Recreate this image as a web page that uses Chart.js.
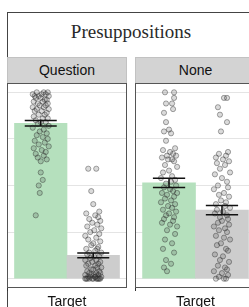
<!DOCTYPE html>
<html>
<head>
  <meta charset="utf-8" />
  <title>Presuppositions</title>
  <script src="https://cdn.jsdelivr.net/npm/chart.js@4.4.0/dist/chart.umd.min.js"></script>
  <style>
    body {
      margin: 0;
      width: 249px;
      height: 307px;
      overflow: hidden;
      background: #fff;
      position: relative;
      font-family: "Liberation Sans", Arial, sans-serif;
    }
    #frame {
      position: absolute; left: 7px; top: 12px;
      width: 270px; height: 330px;
      border: 1px solid #444; box-sizing: border-box;
    }
    #title {
      position: absolute; left: 7px; width: 248px; top: 21px;
      text-align: center; line-height: 22px;
      font-family: "Liberation Serif", serif; font-size: 19px; color: #2a2a2a;
    }
    .strip {
      position: absolute; top: 57px; height: 26px;
      background: #d3d3d3; border: 1px solid #c2c2c2; border-bottom: none;
      box-sizing: border-box; text-align: center;
      font-size: 14px; line-height: 25px; color: #111;
    }
    canvas { position: absolute; top: 83px; }
  </style>
</head>
<body>
  <div id="frame"></div>
  <div id="title">Presuppositions</div>
  <div class="strip" id="stripQ" style="left:7px; width:120px;"></div>
  <div class="strip" id="stripN" style="left:135px; width:121px;"></div>
  <canvas id="panelQ" width="120" height="224" style="left:7px"></canvas>
  <canvas id="panelN" width="121" height="224" style="left:135px"></canvas>

  <script>
    // 1) Values
    const panelNames = ['Question', 'None'];
    const xLabel = 'Target';
    const yGrid = [0, 0.25, 0.5, 0.75, 1];

    // bar means and standard errors: [target (green), control (grey)]
    const questionMeans = [0.834, 0.125];
    const questionSE = [0.015, 0.013];
    const noneMeans = [0.514, 0.368];
    const noneSE = [0.025, 0.025];

    // individual ratings (points) and their horizontal jitter
    const qTargetVals = [1.00,1.00,1.00,0.99,0.99,0.99,0.98,0.98,0.98,0.97,
      0.97,0.96,0.96,0.95,0.95,0.94,0.94,0.93,0.93,0.92,
      0.92,0.91,0.91,0.90,0.90,0.89,0.88,0.88,0.87,0.86,
      0.86,0.85,0.84,0.84,0.83,0.82,0.81,0.80,0.79,0.78,
      0.77,0.76,0.75,0.74,0.73,0.72,0.71,0.70,0.69,0.68,
      0.67,0.66,0.65,0.64,0.63,0.57,0.53,0.50,0.46,0.34];
    const qTargetJit = [-0.04,0.03,0.07,-0.08,0.01,0.05,-0.02,-0.06,0.08,0.00,
      -0.05,0.04,0.06,-0.07,0.02,-0.03,0.07,-0.01,0.05,-0.08,
      0.03,-0.04,0.08,0.01,-0.06,0.06,-0.02,0.04,-0.07,0.02,
      0.07,-0.05,0.00,0.05,-0.03,0.08,-0.08,0.03,-0.01,0.06,
      -0.04,0.02,0.07,-0.06,0.04,-0.02,0.08,-0.07,0.01,0.05,
      -0.05,0.03,-0.03,0.06,0.00,0.00,0.02,-0.02,-0.01,-0.05];

    const qControlVals = [0.59,0.59,0.47,0.40,0.36,0.35,0.34,0.33,0.32,0.31,
      0.30,0.29,0.28,0.27,0.26,0.25,0.24,0.23,0.22,0.21,
      0.20,0.19,0.18,0.17,0.16,0.16,0.15,0.14,0.14,0.13,
      0.12,0.12,0.11,0.10,0.10,0.09,0.09,0.08,0.08,0.07,
      0.07,0.06,0.06,0.05,0.05,0.04,0.04,0.03,0.03,0.03,
      0.02,0.02,0.02,0.01,0.01,0.01,0.01,0.00,0.00,0.00,
      0.00,0.00,0.00,0.00,0.00,0.00,0.00,0.00,0.01,0.02];
    const qControlJit = [-0.05,0.03,-0.02,0.00,0.06,-0.07,0.02,0.05,-0.04,0.07,
      -0.01,0.04,-0.06,0.08,0.01,-0.03,0.06,-0.08,0.03,-0.05,
      0.07,0.00,-0.02,0.05,-0.07,0.04,0.02,-0.04,0.08,-0.06,
      0.01,0.06,-0.03,-0.08,0.03,0.07,-0.01,0.05,-0.05,0.02,
      -0.07,0.08,0.04,-0.02,0.00,0.06,-0.06,0.03,-0.04,0.07,
      -0.08,0.01,0.05,-0.03,0.08,-0.05,0.02,-0.07,0.04,0.06,
      -0.01,-0.06,0.03,0.07,-0.04,0.00,0.05,-0.08,0.02,-0.02];

    const nTargetVals = [1.00,1.00,0.97,0.94,0.94,0.91,0.89,0.84,0.80,0.79,
      0.78,0.74,0.70,0.69,0.68,0.67,0.66,0.66,0.65,0.64,
      0.64,0.63,0.61,0.60,0.58,0.57,0.55,0.54,0.53,0.52,
      0.51,0.50,0.49,0.48,0.47,0.46,0.46,0.45,0.44,0.43,
      0.42,0.41,0.40,0.39,0.38,0.37,0.36,0.35,0.34,0.33,
      0.32,0.31,0.30,0.29,0.28,0.26,0.24,0.21,0.19,0.16,
      0.14,0.10,0.08,0.06,0.04];
    const nTargetJit = [-0.04,0.05,0.05,-0.03,0.03,0.04,-0.05,-0.03,0.00,-0.05,
      0.02,-0.03,0.06,-0.06,0.01,0.04,-0.02,0.07,-0.07,0.03,
      -0.01,0.05,-0.04,0.08,0.00,-0.06,0.03,-0.08,0.06,0.02,
      -0.03,0.07,-0.05,0.01,0.04,-0.07,0.08,-0.02,0.05,-0.04,
      0.02,-0.08,0.06,-0.01,0.03,-0.06,0.07,0.00,-0.03,0.05,
      -0.05,0.04,-0.07,0.01,0.08,-0.02,0.06,-0.04,0.03,-0.06,
      0.05,-0.03,0.02,-0.05,-0.02];

    const nControlVals = [0.97,0.97,0.92,0.88,0.84,0.79,0.68,0.67,0.66,0.65,
      0.64,0.63,0.62,0.61,0.59,0.57,0.56,0.54,0.52,0.50,
      0.49,0.48,0.46,0.45,0.44,0.42,0.41,0.40,0.39,0.38,
      0.37,0.36,0.35,0.34,0.33,0.32,0.31,0.30,0.29,0.28,
      0.27,0.26,0.25,0.23,0.22,0.21,0.19,0.18,0.16,0.15,
      0.13,0.12,0.10,0.09,0.07,0.06,0.05,0.04,0.03,0.02,
      0.01,0.00,0.00,0.00];
    const nControlJit = [0.02,0.05,-0.04,-0.02,0.05,-0.01,0.06,-0.03,0.04,-0.06,
      0.01,0.07,-0.05,0.03,-0.02,0.08,-0.07,0.00,0.05,-0.04,
      0.06,-0.08,0.02,-0.03,0.07,-0.01,0.04,-0.06,0.03,0.08,
      -0.05,0.01,-0.07,0.05,-0.02,0.06,0.00,-0.04,0.07,-0.08,
      0.03,-0.03,0.05,-0.06,0.02,0.08,-0.01,-0.05,0.04,0.06,
      -0.07,0.01,-0.02,0.07,-0.04,0.03,0.05,-0.08,0.00,0.06,
      -0.03,0.02,-0.06,0.04];

    // 2) Styling / layout constants
    const dodge = [-0.2625, 0.2625];          // bar centres around the category
    const barColors = ['#b5e0bd', '#cdcdcd'];
    const errHalfWidth = 0.16;

    document.getElementById('stripQ').textContent = panelNames[0];
    document.getElementById('stripN').textContent = panelNames[1];

    // error bars and panel border, drawn through the chart's scales
    const errorBarPlugin = {
      id: 'errorBars',
      afterDatasetsDraw(chart) {
        const { ctx, scales } = chart;
        const xs = scales.x, ys = scales.y;
        const means = chart.options.plugins.errorBars.means;
        const ses = chart.options.plugins.errorBars.ses;
        ctx.save();
        ctx.strokeStyle = '#111';
        ctx.lineWidth = 1.5;
        means.forEach((m, i) => {
          const xl = xs.getPixelForValue(dodge[i] - errHalfWidth);
          const xr = xs.getPixelForValue(dodge[i] + errHalfWidth);
          const xc = xs.getPixelForValue(dodge[i]);
          const yt = ys.getPixelForValue(m + ses[i]);
          const yb = ys.getPixelForValue(m - ses[i]);
          ctx.beginPath();
          ctx.moveTo(xl, yt); ctx.lineTo(xr, yt);
          ctx.moveTo(xl, yb); ctx.lineTo(xr, yb);
          ctx.moveTo(xc, yt); ctx.lineTo(xc, yb);
          ctx.stroke();
        });
        ctx.restore();
      },
      afterDraw(chart) {
        const a = chart.chartArea;
        const ctx = chart.ctx;
        ctx.save();
        ctx.strokeStyle = '#555';
        ctx.lineWidth = 1;
        ctx.strokeRect(a.left + 0.5, a.top + 0.5, a.right - a.left - 1, a.bottom - a.top - 1);
        ctx.restore();
      }
    };

    // 3) Build one facet panel
    function makePanel(canvasId, means, ses, groups) {
      const datasets = [{
        type: 'bar',
        data: means.map((m, i) => ({ x: dodge[i], y: m })),
        backgroundColor: barColors,
        barPercentage: 1,
        categoryPercentage: 1,
        xAxisID: 'x',
        order: 2
      }];
      groups.forEach((g, i) => {
        datasets.push({
          type: 'scatter',
          data: g.vals.map((v, k) => ({ x: dodge[i] + g.jit[k], y: v })),
          pointRadius: 2.6,
          pointBackgroundColor: 'rgba(70,70,70,0.2)',
          pointBorderColor: 'rgba(40,40,40,0.4)',
          pointBorderWidth: 1,
          xAxisID: 'x',
          order: 1
        });
      });

      return new Chart(document.getElementById(canvasId), {
        type: 'bar',
        data: { datasets },
        plugins: [errorBarPlugin],
        options: {
          responsive: false,
          animation: false,
          devicePixelRatio: 1,
          layout: { padding: 0, autoPadding: false },
          plugins: {
            legend: { display: false },
            tooltip: { enabled: false },
            errorBars: { means, ses }
          },
          scales: {
            x: {
              type: 'linear', min: -0.6, max: 0.6, display: false,
              afterBuildTicks: s => { s.ticks = []; }
            },
            x2: {
              type: 'linear', position: 'bottom', min: -0.6, max: 0.6,
              afterBuildTicks: s => { s.ticks = [{ value: 0 }]; },
              afterFit: s => { s.height = 19; },
              ticks: {
                callback: () => xLabel,
                color: '#111',
                padding: 3,
                maxRotation: 0,
                font: { family: '"Liberation Sans", Arial, sans-serif', size: 14 }
              },
              grid: { color: '#e4e4e4', tickColor: '#333', tickLength: 3 },
              border: { display: false }
            },
            y: {
              min: -0.05, max: 1.05,
              afterBuildTicks: s => { s.ticks = yGrid.map(v => ({ value: v })); },
              afterFit: s => { s.width = 0; },
              ticks: { display: false },
              grid: { color: '#e4e4e4', drawTicks: false },
              border: { display: false }
            }
          }
        }
      });
    }

    makePanel('panelQ', questionMeans, questionSE, [
      { vals: qTargetVals, jit: qTargetJit },
      { vals: qControlVals, jit: qControlJit }
    ]);
    makePanel('panelN', noneMeans, noneSE, [
      { vals: nTargetVals, jit: nTargetJit },
      { vals: nControlVals, jit: nControlJit }
    ]);
  </script>
</body>
</html>
